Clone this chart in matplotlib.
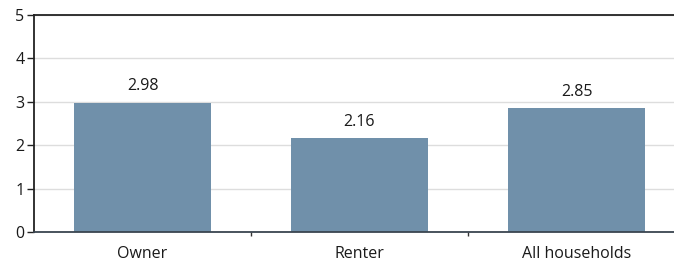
import matplotlib
matplotlib.use("Agg")
import matplotlib.pyplot as plt
from matplotlib.ticker import FixedLocator

categories = ["Owner", "Renter", "All households"]
values = [2.98, 2.16, 2.85]
value_labels = ["2.98", "2.16", "2.85"]
yticks = [0, 1, 2, 3, 4, 5]

plt.rcParams['font.family'] = ['Open Sans', 'DejaVu Sans']

fig = plt.figure(figsize=(6.74, 2.63), dpi=100)
W, H = 674, 263
left, right, top, bottom = 34, 685, 15, 232
ax = fig.add_axes([left / W, 1 - bottom / H, (right - left) / W, (bottom - top) / H])

x = list(range(len(categories)))
bars = ax.bar(x, values, width=0.627, color="#7090aa", zorder=2)
for xi, v, lab in zip(x, values, value_labels):
    ax.annotate(lab, (xi, v), xytext=(0, 6), textcoords="offset points",
                ha="center", va="bottom", fontsize=11.5, color="#1a1a1a")

ax.set_xlim(-0.5, 2.5)
ax.set_ylim(0, 5)
ax.set_yticks(yticks)
ax.set_xticks(x)
ax.set_xticklabels(categories, fontsize=11.5, color="#1a1a1a")
ax.xaxis.set_minor_locator(FixedLocator([0.5, 1.5]))
ax.tick_params(axis="x", which="major", length=0, pad=10)
ax.tick_params(axis="x", which="minor", length=3, width=1, color="#333333")
ax.tick_params(axis="y", length=5, width=1, color="#222222", labelsize=11.5, labelcolor="#1a1a1a", pad=2)
ax.grid(axis="y", color="#dddddd", linewidth=1, zorder=0)
ax.set_axisbelow(True)
for s in ["left", "top", "bottom"]:
    ax.spines[s].set_color("#222222")
    ax.spines[s].set_linewidth(1.3)
ax.spines["bottom"].set_color("#3a4550")
ax.spines["right"].set_visible(False)

fig.savefig("out.png", dpi=100)
